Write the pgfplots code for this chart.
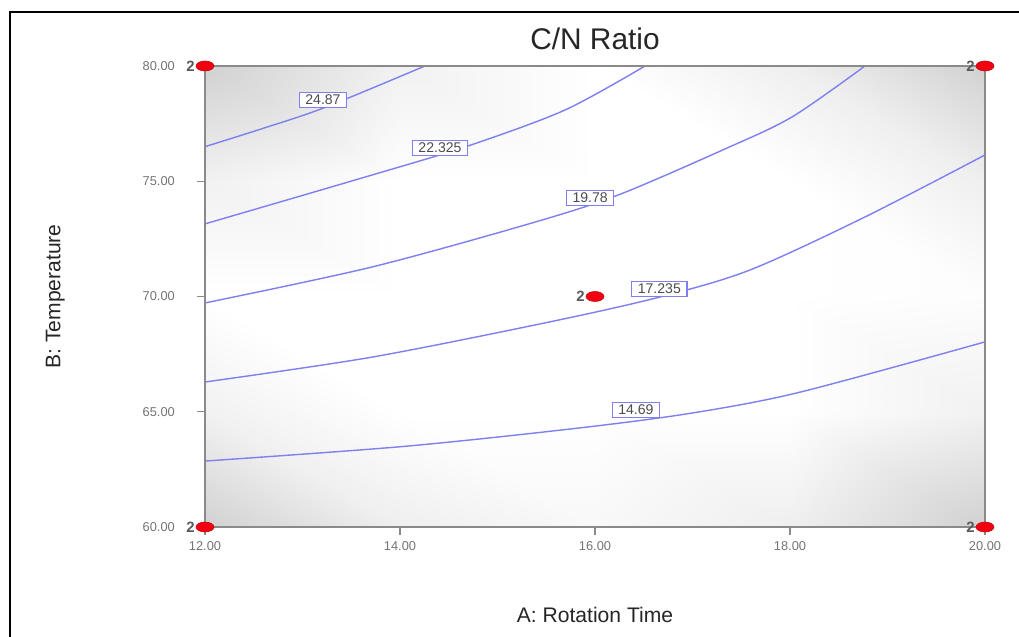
\documentclass[border=0pt]{standalone}
\usepackage{fontspec}
\setmainfont{Liberation Sans}
\usepackage{pgfplots}
\pgfplotsset{compat=1.18}
\definecolor{cline}{HTML}{7F7FF0}
\definecolor{ptred}{HTML}{F00010}
\definecolor{axgray}{HTML}{8A8A8A}

\begin{document}
\begin{tikzpicture}
\useasboundingbox (0,0) rectangle (20.38cm,12.74cm);
% outer frame (right and bottom sides fall off the page)
\draw[line width=1.4pt] (0.2cm,-1cm) -- (0.2cm,12.5cm) -- (21cm,12.5cm);
\begin{axis}[
    at={(4.1cm,2.2cm)}, anchor=south west,
    scale only axis, width=15.6cm, height=9.22cm,
    view={0}{90},
    clip=false,
    xmin=12, xmax=20, ymin=60, ymax=80,
    xtick={12,14,...,20}, ytick={60,65,...,80}, ztick=\empty,
    tick pos=left, tick align=outside,
    major tick length=0.16cm,
    tick style={axgray, line width=0.8pt},
    axis line style={axgray, line width=1pt},
    /pgf/number format/fixed, /pgf/number format/fixed zerofill,
    /pgf/number format/precision=2, /pgf/number format/assume math mode=true,
    ticklabel style={font=\fontsize{7.3}{9}\selectfont, text=black!55},
    yticklabel style={xshift=-0.32cm},
    title={C/N Ratio},
    title style={at={(axis description cs:0.5,1)}, anchor=base, yshift=0.12cm,
        font=\fontsize{17}{20}\selectfont, text=black!85},
    xlabel={A: Rotation Time},
    ylabel={B: Temperature},
    x label style={at={(axis description cs:0.5,-0.208)}, anchor=base,
        font=\fontsize{12}{14}\selectfont, text=black!85},
    y label style={at={(axis description cs:-0.192,0.5)}, anchor=center, rotate=0,
        font=\fontsize{12}{14}\selectfont, text=black!85},
    colormap={cgray}{color=(white) color=(black!18)},
    point meta min=0, point meta max=1,
]
% light gray background shading (darker in the corners)
\addplot3[surf, shader=interp, mesh/cols=5] coordinates {
(12,60,1.0) (14,60,0.35) (16,60,0.15) (18,60,0.35) (20,60,1.0)

(12,65,0.3) (14,65,0.0) (16,65,0.0) (18,65,0.0) (20,65,0.3)

(12,70,0.0) (14,70,0.0) (16,70,0.0) (18,70,0.0) (20,70,0.05)

(12,75,0.3) (14,75,0.0) (16,75,0.0) (18,75,0.0) (20,75,0.35)

(12,80,1.0) (14,80,0.3) (16,80,0.0) (18,80,0.35) (20,80,1.0)
};

% contour lines
\addplot3[cline, line width=0.8pt, smooth] coordinates {
(12,76.50,0) (12.6,77.30,0) (13.23,78.20,0) (14.256,80,0)};
\addplot3[cline, line width=0.8pt, smooth] coordinates {
(12,73.15,0) (13.713,75.27,0) (14.697,76.53,0) (15.692,78.09,0) (16.513,80,0)};
\addplot3[cline, line width=0.8pt, smooth] coordinates {
(12,69.72,0) (13.713,71.28,0) (15.354,73.19,0) (16.236,74.40,0) (17.333,76.40,0) (18.021,77.79,0) (18.769,80,0)};
\addplot3[cline, line width=0.8pt, smooth] coordinates {
(12,66.29,0) (13.713,67.37,0) (15.538,68.90,0) (16.667,69.98,0) (17.590,71.15,0) (18.769,73.45,0) (20,76.14,0)};
\addplot3[cline, line width=0.8pt, smooth] coordinates {
(12,62.86,0) (14.051,63.50,0) (15.846,64.30,0) (17.005,64.95,0) (18.103,65.85,0) (20,68.03,0)};

% contour labels
\tikzset{clab/.style={draw=cline, fill=white, line width=0.6pt, inner xsep=3.5pt, inner ysep=1.5pt,
    font=\fontsize{8}{9}\selectfont, text=black!70}}
\node[clab] at (axis cs:13.21,78.52,0) {24.87};
\node[clab] at (axis cs:14.41,76.44,0) {22.325};
\node[clab] at (axis cs:15.95,74.27,0) {19.78};
\node[clab] at (axis cs:16.66,70.33,0) {17.235};
\node[clab] at (axis cs:16.42,65.08,0) {14.69};

% design points
\addplot3[only marks, mark=*, mark size=0.1cm,
    mark options={fill=ptred, draw=ptred!80!black, line width=0.3pt, xscale=1.8},
    point meta=explicit symbolic, nodes near coords,
    every node near coord/.append style={anchor=east, xshift=-0.2cm, inner sep=0pt,
        font=\bfseries\fontsize{8.5}{10}\selectfont, text=black!65}]
coordinates {
(12,60,0) [2]
(12,80,0) [2]
(20,60,0) [2]
(20,80,0) [2]
(16,70,0) [2]
};
\end{axis}
\end{tikzpicture}
\end{document}
